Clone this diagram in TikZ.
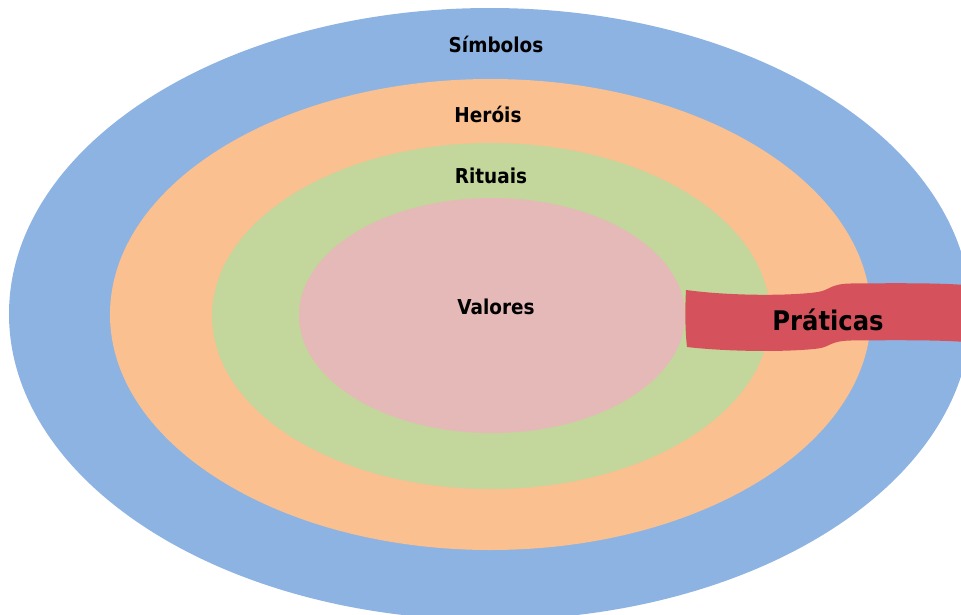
\documentclass[tikz,border=0pt]{standalone}
\usepackage{fontspec}
\setmainfont{DejaVu Sans Condensed}
\definecolor{cblue}{HTML}{8DB3E2}
\definecolor{corange}{HTML}{FAC08F}
\definecolor{cgreen}{HTML}{C3D69B}
\definecolor{cpink}{HTML}{E5B9B7}
\definecolor{cred}{HTML}{D5525C}
\tikzset{
  ring/.style={draw=none},
  lab/.style={font=\bfseries\fontsize{20.5}{23}\selectfont, inner sep=0pt},
  biglab/.style={font=\bfseries\fontsize{27}{30}\selectfont, inner sep=0pt}
}
\begin{document}
\begin{tikzpicture}[x=1pt,y=-1pt]
\useasboundingbox (0,0) rectangle (961,614);
\begin{scope}
\clip (0,0) rectangle (961,614);
\fill[ring,cblue] (490,314) ellipse [x radius=481, y radius=306];
\fill[ring,corange] (490.5,314.5) ellipse [x radius=380.5, y radius=235.5];
\fill[ring,cgreen] (491,316) ellipse [x radius=279, y radius=173];
\fill[ring,cpink] (492,315.5) ellipse [x radius=193, y radius=117.5];
\fill[cred] (686,290) .. controls (730,296) and (790,296) .. (818,292)
  .. controls (830,290) and (830,284) .. (850,283.5)
  .. controls (900,283) and (940,283) .. (965,285)
  -- (965,342)
  .. controls (940,340) and (900,340) .. (850,340.5)
  .. controls (830,341) and (830,347) .. (818,348.5)
  .. controls (790,352) and (730,352) .. (687,347)
  .. controls (685,330) and (685,308) .. cycle;
\end{scope}
\node[lab] (simbolos) at (496,44) {Símbolos};
\node[lab] (herois) at (488,114) {Heróis};
\node[lab] (rituais) at (491,176) {Rituais};
\node[lab] (valores) at (496,307) {Valores};
\node[biglab] (praticas) at (828,320) {Práticas};
\end{tikzpicture}
\end{document}
